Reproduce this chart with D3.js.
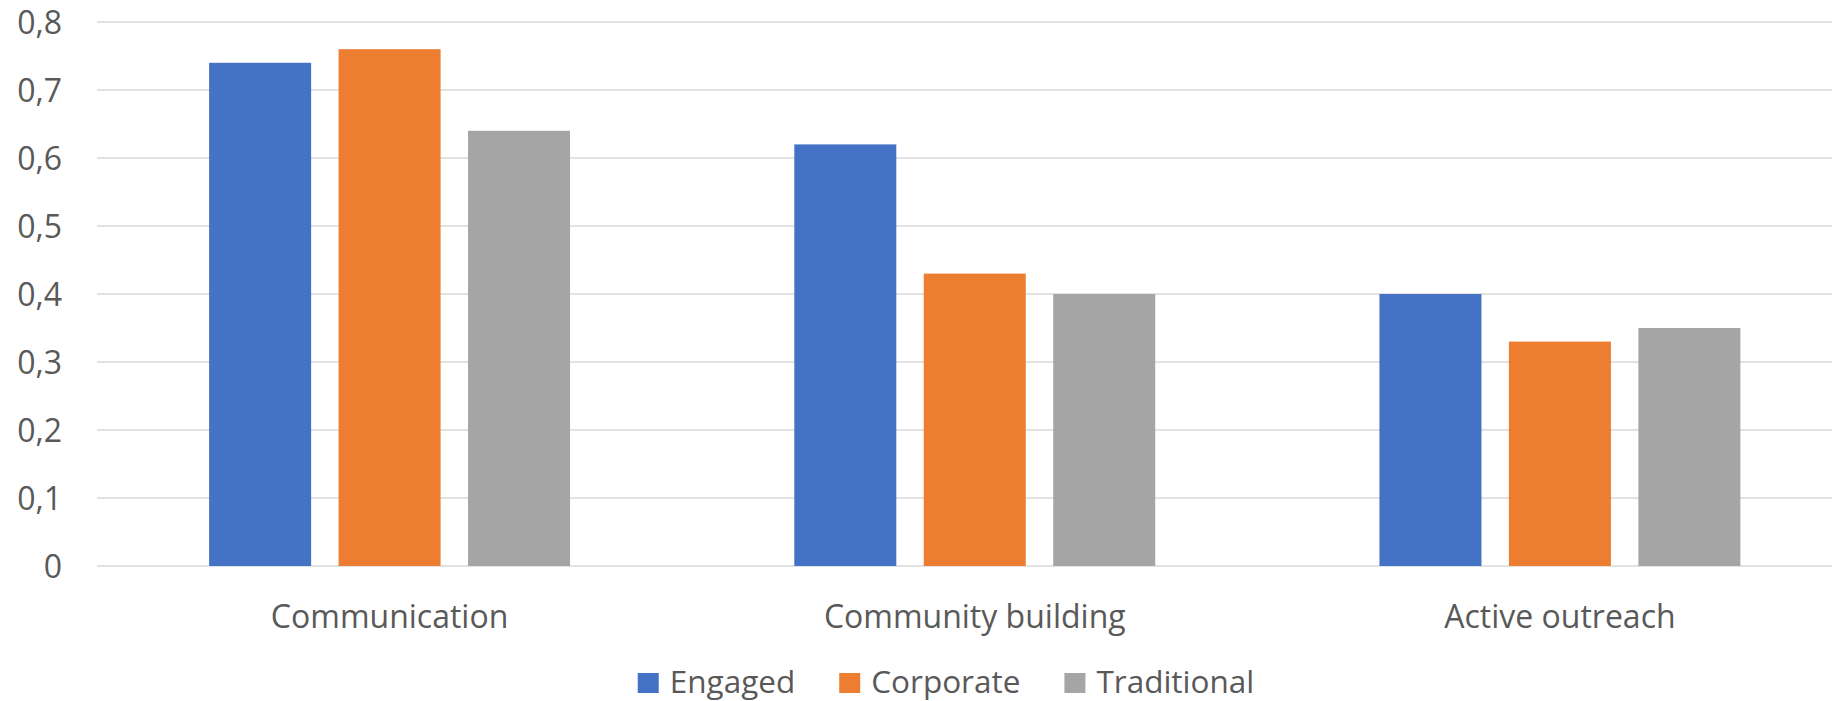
<!DOCTYPE html>
<html>
<head>
<meta charset="utf-8">
<script src="https://cdn.jsdelivr.net/npm/d3@7"></script>
<style>
  html, body { margin: 0; padding: 0; background: #ffffff; }
  svg { display: block; }
  text { font-family: "Open Sans", sans-serif; fill: #595959; }
</style>
</head>
<body>
<svg id="chart" width="1832" height="701"></svg>
<script>
// Categories, series and values
const categories = ["Communication", "Community building", "Active outreach"];
const series = ["Engaged", "Corporate", "Traditional"];
const colors = ["#4472C4", "#ED7D31", "#A5A5A5"];
const engaged = [0.74, 0.62, 0.40];
const corporate = [0.76, 0.43, 0.33];
const traditional = [0.64, 0.40, 0.35];
const yTicks = [0, 0.1, 0.2, 0.3, 0.4, 0.5, 0.6, 0.7, 0.8];

const values = [engaged, corporate, traditional];

const W = 1832, H = 701;
const plot = { left: 97, right: 1852.5, top: 22, bottom: 566 };

const svg = d3.select("#chart");

const x = d3.scaleBand()
  .domain(categories)
  .range([plot.left, plot.right])
  .paddingInner(0)
  .paddingOuter(0);

const xInner = d3.scaleBand()
  .domain(series)
  .range([0, x.bandwidth()])
  .paddingInner(0.212)
  .paddingOuter(0.866);

const y = d3.scaleLinear().domain([0, 0.8]).range([plot.bottom, plot.top]);

const locale = d3.formatLocale({ decimal: ",", thousands: ".", grouping: [3], currency: ["", "€"] });
const fmt = d => d === 0 ? "0" : locale.format(".1f")(d);

// Horizontal gridlines
svg.append("g")
  .selectAll("line")
  .data(yTicks)
  .join("line")
  .attr("x1", plot.left)
  .attr("x2", plot.right)
  .attr("y1", d => y(d))
  .attr("y2", d => y(d))
  .attr("stroke", "#d9d9d9")
  .attr("stroke-width", 1.6);

// Y axis labels
const yAxis = d3.axisLeft(y).tickValues(yTicks).tickFormat(fmt).tickSize(0).tickPadding(0);
const yg = svg.append("g").attr("transform", "translate(62,0)").call(yAxis);
yg.select(".domain").remove();
yg.selectAll("text")
  .attr("font-size", 32)
  .attr("font-family", "Open Sans, sans-serif")
  .attr("fill", "#595959")
  .attr("dy", "0.36em");

// Bars
const groups = svg.append("g")
  .selectAll("g")
  .data(categories)
  .join("g")
  .attr("transform", c => `translate(${x(c)},0)`);

groups.selectAll("rect")
  .data((c, ci) => series.map((s, si) => ({ s, si, v: values[si][ci] })))
  .join("rect")
  .attr("x", d => xInner(d.s))
  .attr("width", xInner.bandwidth())
  .attr("y", d => y(d.v))
  .attr("height", d => y(0) - y(d.v))
  .attr("fill", d => colors[d.si]);

// Category labels
const xAxis = d3.axisBottom(x).tickSize(0).tickPadding(0);
const xg = svg.append("g").attr("transform", "translate(0,628)").call(xAxis);
xg.select(".domain").remove();
xg.selectAll("text")
  .attr("font-size", 32)
  .attr("font-family", "Open Sans, sans-serif")
  .attr("fill", "#595959")
  .attr("dy", 0)
  .attr("y", 0);

// Legend
const legend = svg.append("g");
const items = legend.selectAll("g")
  .data(series)
  .join("g");
items.append("rect")
  .attr("width", 21)
  .attr("height", 20)
  .attr("y", 673)
  .attr("fill", (d, i) => colors[i]);
items.append("text")
  .attr("x", 32)
  .attr("y", 693)
  .attr("font-size", 31.5)
  .text(d => d);

let offset = 0;
const itemGap = 44;
items.each(function () {
  const g = d3.select(this);
  g.attr("transform", `translate(${offset},0)`);
  const tw = g.select("text").node().getComputedTextLength();
  offset += 32 + tw + itemGap;
});
const legendWidth = offset - itemGap;
legend.attr("transform", `translate(${946 - legendWidth / 2},0)`);
</script>
</body>
</html>
